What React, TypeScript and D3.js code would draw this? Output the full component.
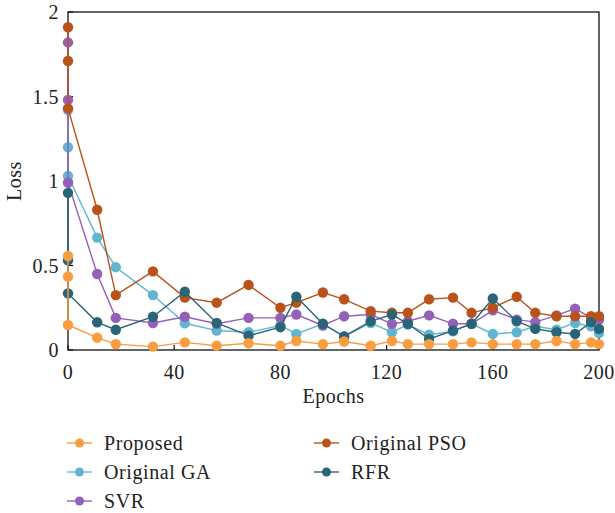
import React from 'react';
import * as d3 from 'd3';

// epochs (first three points all sit on epoch 0)
const epochs = [0, 0, 0, 11, 18, 32, 44, 56, 68, 80, 86, 96, 104, 114, 122, 128, 136, 145, 152, 160, 169, 176, 184, 191, 197, 200];

const proposed = [0.556, 0.434, 0.148, 0.073, 0.035, 0.02, 0.045, 0.025, 0.04, 0.025, 0.053, 0.035, 0.05, 0.025, 0.053, 0.035, 0.035, 0.035, 0.045, 0.035, 0.035, 0.035, 0.053, 0.035, 0.045, 0.035];
const originalGA = [1.42, 1.2, 1.03, 0.665, 0.49, 0.325, 0.158, 0.115, 0.105, 0.145, 0.095, 0.155, 0.08, 0.16, 0.105, 0.15, 0.09, 0.11, 0.155, 0.095, 0.105, 0.14, 0.12, 0.16, 0.14, 0.1];
const svr = [1.82, 1.48, 0.99, 0.45, 0.19, 0.16, 0.197, 0.155, 0.19, 0.19, 0.21, 0.145, 0.2, 0.21, 0.155, 0.17, 0.205, 0.155, 0.155, 0.235, 0.18, 0.165, 0.205, 0.245, 0.19, 0.18];
const originalPSO = [1.91, 1.71, 1.43, 0.83, 0.325, 0.465, 0.31, 0.28, 0.385, 0.25, 0.28, 0.34, 0.3, 0.23, 0.22, 0.22, 0.3, 0.31, 0.22, 0.25, 0.315, 0.22, 0.2, 0.2, 0.2, 0.2];
const rfr = [0.93, 0.53, 0.335, 0.164, 0.12, 0.197, 0.345, 0.16, 0.085, 0.135, 0.315, 0.155, 0.08, 0.17, 0.21, 0.155, 0.065, 0.115, 0.155, 0.305, 0.17, 0.125, 0.105, 0.095, 0.165, 0.125];

const xTicks = [0, 40, 80, 120, 160, 200];
const yTicks = [0, 0.5, 1, 1.5, 2];

const series = [
  { name: 'Proposed', values: proposed, color: '#f99d40' },
  { name: 'Original GA', values: originalGA, color: '#62b5d0' },
  { name: 'SVR', values: svr, color: '#9460b8' },
  { name: 'Original PSO', values: originalPSO, color: '#b9531b' },
  { name: 'RFR', values: rfr, color: '#2a6477' },
];

// draw order (bottom to top) follows visual stacking in the reference
const drawOrder = ['Original GA', 'SVR', 'Original PSO', 'RFR', 'Proposed'];

const legendPos: Record<string, [number, number]> = {
  'Proposed': [67, 443],
  'Original GA': [67, 472],
  'SVR': [67, 501],
  'Original PSO': [314, 443],
  'RFR': [314, 472],
};

const font = '"Liberation Serif", "DejaVu Serif", serif';

const App = () => {
  const width = 615, height = 513;
  const margin = { top: 12, right: 16, bottom: 163, left: 68 };

  const x = d3.scaleLinear().domain([0, 200]).range([margin.left, width - margin.right]);
  const y = d3.scaleLinear().domain([0, 2]).range([height - margin.bottom, margin.top]);

  const line = d3.line<number>()
    .x((d, i) => x(epochs[i]))
    .y(d => y(d));

  const x0 = x(0), x1 = x(200), y0 = y(0), y1 = y(2);

  return (
    <svg width={width} height={height} style={{ position: 'absolute', left: 0, top: 0, background: 'white' }}>
      {/* frame */}
      <rect x={x0} y={y1} width={x1 - x0} height={y0 - y1} fill="none" stroke="#111" strokeWidth={1.3} />

      {/* ticks, pointing inward */}
      {xTicks.map(t => (
        <g key={'x' + t}>
          <line x1={x(t)} x2={x(t)} y1={y0} y2={y0 - 5} stroke="#111" strokeWidth={1.2} />
          <text x={x(t)} y={y0 + 29} textAnchor="middle" fontFamily={font} fontSize={20} letterSpacing={0.5} fill="#222">{t}</text>
        </g>
      ))}
      {yTicks.map(t => (
        <g key={'y' + t}>
          <line x1={x0} x2={x0 + 5} y1={y(t)} y2={y(t)} stroke="#111" strokeWidth={1.2} />
          <text x={x0 - 9} y={y(t) + 7} textAnchor="end" fontFamily={font} fontSize={20} letterSpacing={0.5} fill="#222">{t}</text>
        </g>
      ))}

      <text x={(x0 + x1) / 2} y={y0 + 53} textAnchor="middle" fontFamily={font} fontSize={20} letterSpacing={0.5} fill="#222">Epochs</text>
      <text transform={`translate(21,${(y0 + y1) / 2}) rotate(-90)`} textAnchor="middle" fontFamily={font} fontSize={20} letterSpacing={0.5} fill="#222">Loss</text>

      {/* series */}
      {drawOrder.map(n => {
        const s = series.find(d => d.name === n)!;
        return (
          <g key={s.name}>
            <path d={line(s.values) || ''} fill="none" stroke={s.color} strokeWidth={1.4} />
            {s.values.map((v, i) => (
              <circle key={i} cx={x(epochs[i])} cy={y(v)} r={5.2} fill={s.color} />
            ))}
          </g>
        );
      })}

      {/* legend */}
      {series.map(s => {
        const [lx, ly] = legendPos[s.name];
        return (
          <g key={'lg' + s.name}>
            <line x1={lx} x2={lx + 25} y1={ly} y2={ly} stroke={s.color} strokeWidth={1.4} />
            <circle cx={lx + 12.5} cy={ly} r={4.5} fill={s.color} />
            <text x={lx + 37} y={ly + 7} fontFamily={font} fontSize={20} letterSpacing={0.6} fill="#222">{s.name}</text>
          </g>
        );
      })}
    </svg>
  );
};

export default App;
